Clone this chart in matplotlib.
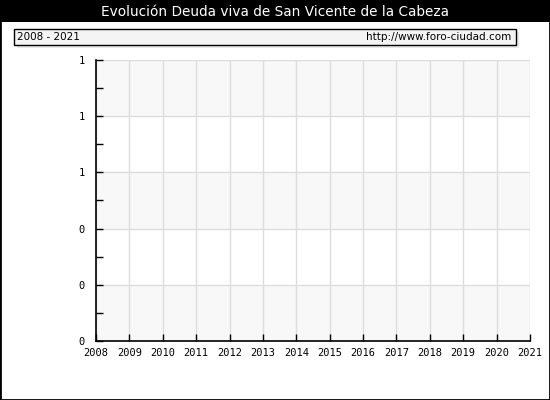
import matplotlib
matplotlib.use("Agg")
import matplotlib.pyplot as plt
from matplotlib.patches import Rectangle
from matplotlib.ticker import MultipleLocator

title = "Evolución Deuda viva de San Vicente de la Cabeza"
period = "2008 - 2021"
source = "http://www.foro-ciudad.com"
years = list(range(2008, 2022))
yticks = [0.0, 0.2, 0.4, 0.6, 0.8, 1.0]
ytick_labels = [f"{v:.0f}" for v in yticks]

W, H = 550, 400
fig = plt.figure(figsize=(W / 100, H / 100), dpi=100)
fig.patch.set_facecolor("white")

def fx(px):
    return px / W

def fy(py):
    return 1 - py / H

# outer border
fig.patches.append(Rectangle((0, 0), 1, 1, transform=fig.transFigure,
                             fill=False, edgecolor="black", linewidth=2, zorder=10))
# title bar
fig.patches.append(Rectangle((0, fy(22)), 1, 22 / H, transform=fig.transFigure,
                             facecolor="black", edgecolor="none", zorder=1))
fig.text(0.5, fy(12), title, color="white", ha="center", va="center",
         fontsize=9.8, family="DejaVu Sans", zorder=11)

# info box with shadow
fig.patches.append(Rectangle((fx(17), fy(48)), fx(502), 16 / H, transform=fig.transFigure,
                             facecolor="#e8e8e8", edgecolor="none", zorder=1))
fig.patches.append(Rectangle((fx(14), fy(45)), fx(502), 16 / H, transform=fig.transFigure,
                             facecolor="#f4f4f4", edgecolor="black", linewidth=1, zorder=2))
fig.text(fx(17), fy(37), period, ha="left", va="center", fontsize=7.5, zorder=3)
fig.text(fx(511), fy(37), source, ha="right", va="center", fontsize=7.5, zorder=3)

ax = fig.add_axes([fx(96), fy(341), fx(530 - 96), (341 - 60) / H])
ax.set_xlim(years[0], years[-1])
ax.set_ylim(yticks[0], yticks[-1])
ax.set_facecolor("white")

for i in range(len(yticks) - 1):
    if i % 2 == 0:
        ax.axhspan(yticks[i], yticks[i + 1], facecolor="#f8f8f8", edgecolor="none", zorder=0)

ax.set_xticks(years)
ax.set_xticklabels([str(y) for y in years], family="DejaVu Sans Mono")
ax.set_yticks(yticks)
ax.set_yticklabels(ytick_labels, family="DejaVu Sans Mono")
ax.yaxis.set_minor_locator(MultipleLocator(0.1))
ax.grid(True, which="major", color="#dddddd", linewidth=1, zorder=1)
ax.set_axisbelow(True)

for s in ["top", "right"]:
    ax.spines[s].set_visible(False)
for s in ["left", "bottom"]:
    ax.spines[s].set_linewidth(1.2)
    ax.spines[s].set_color("black")

ax.tick_params(axis="both", which="major", direction="in", length=5, width=1,
               labelsize=7.5, colors="black")
ax.tick_params(axis="y", which="minor", direction="in", length=5, width=1)
ax.tick_params(axis="x", pad=5)
ax.tick_params(axis="y", pad=8)

fig.savefig("out.png", dpi=100, facecolor=fig.get_facecolor())
